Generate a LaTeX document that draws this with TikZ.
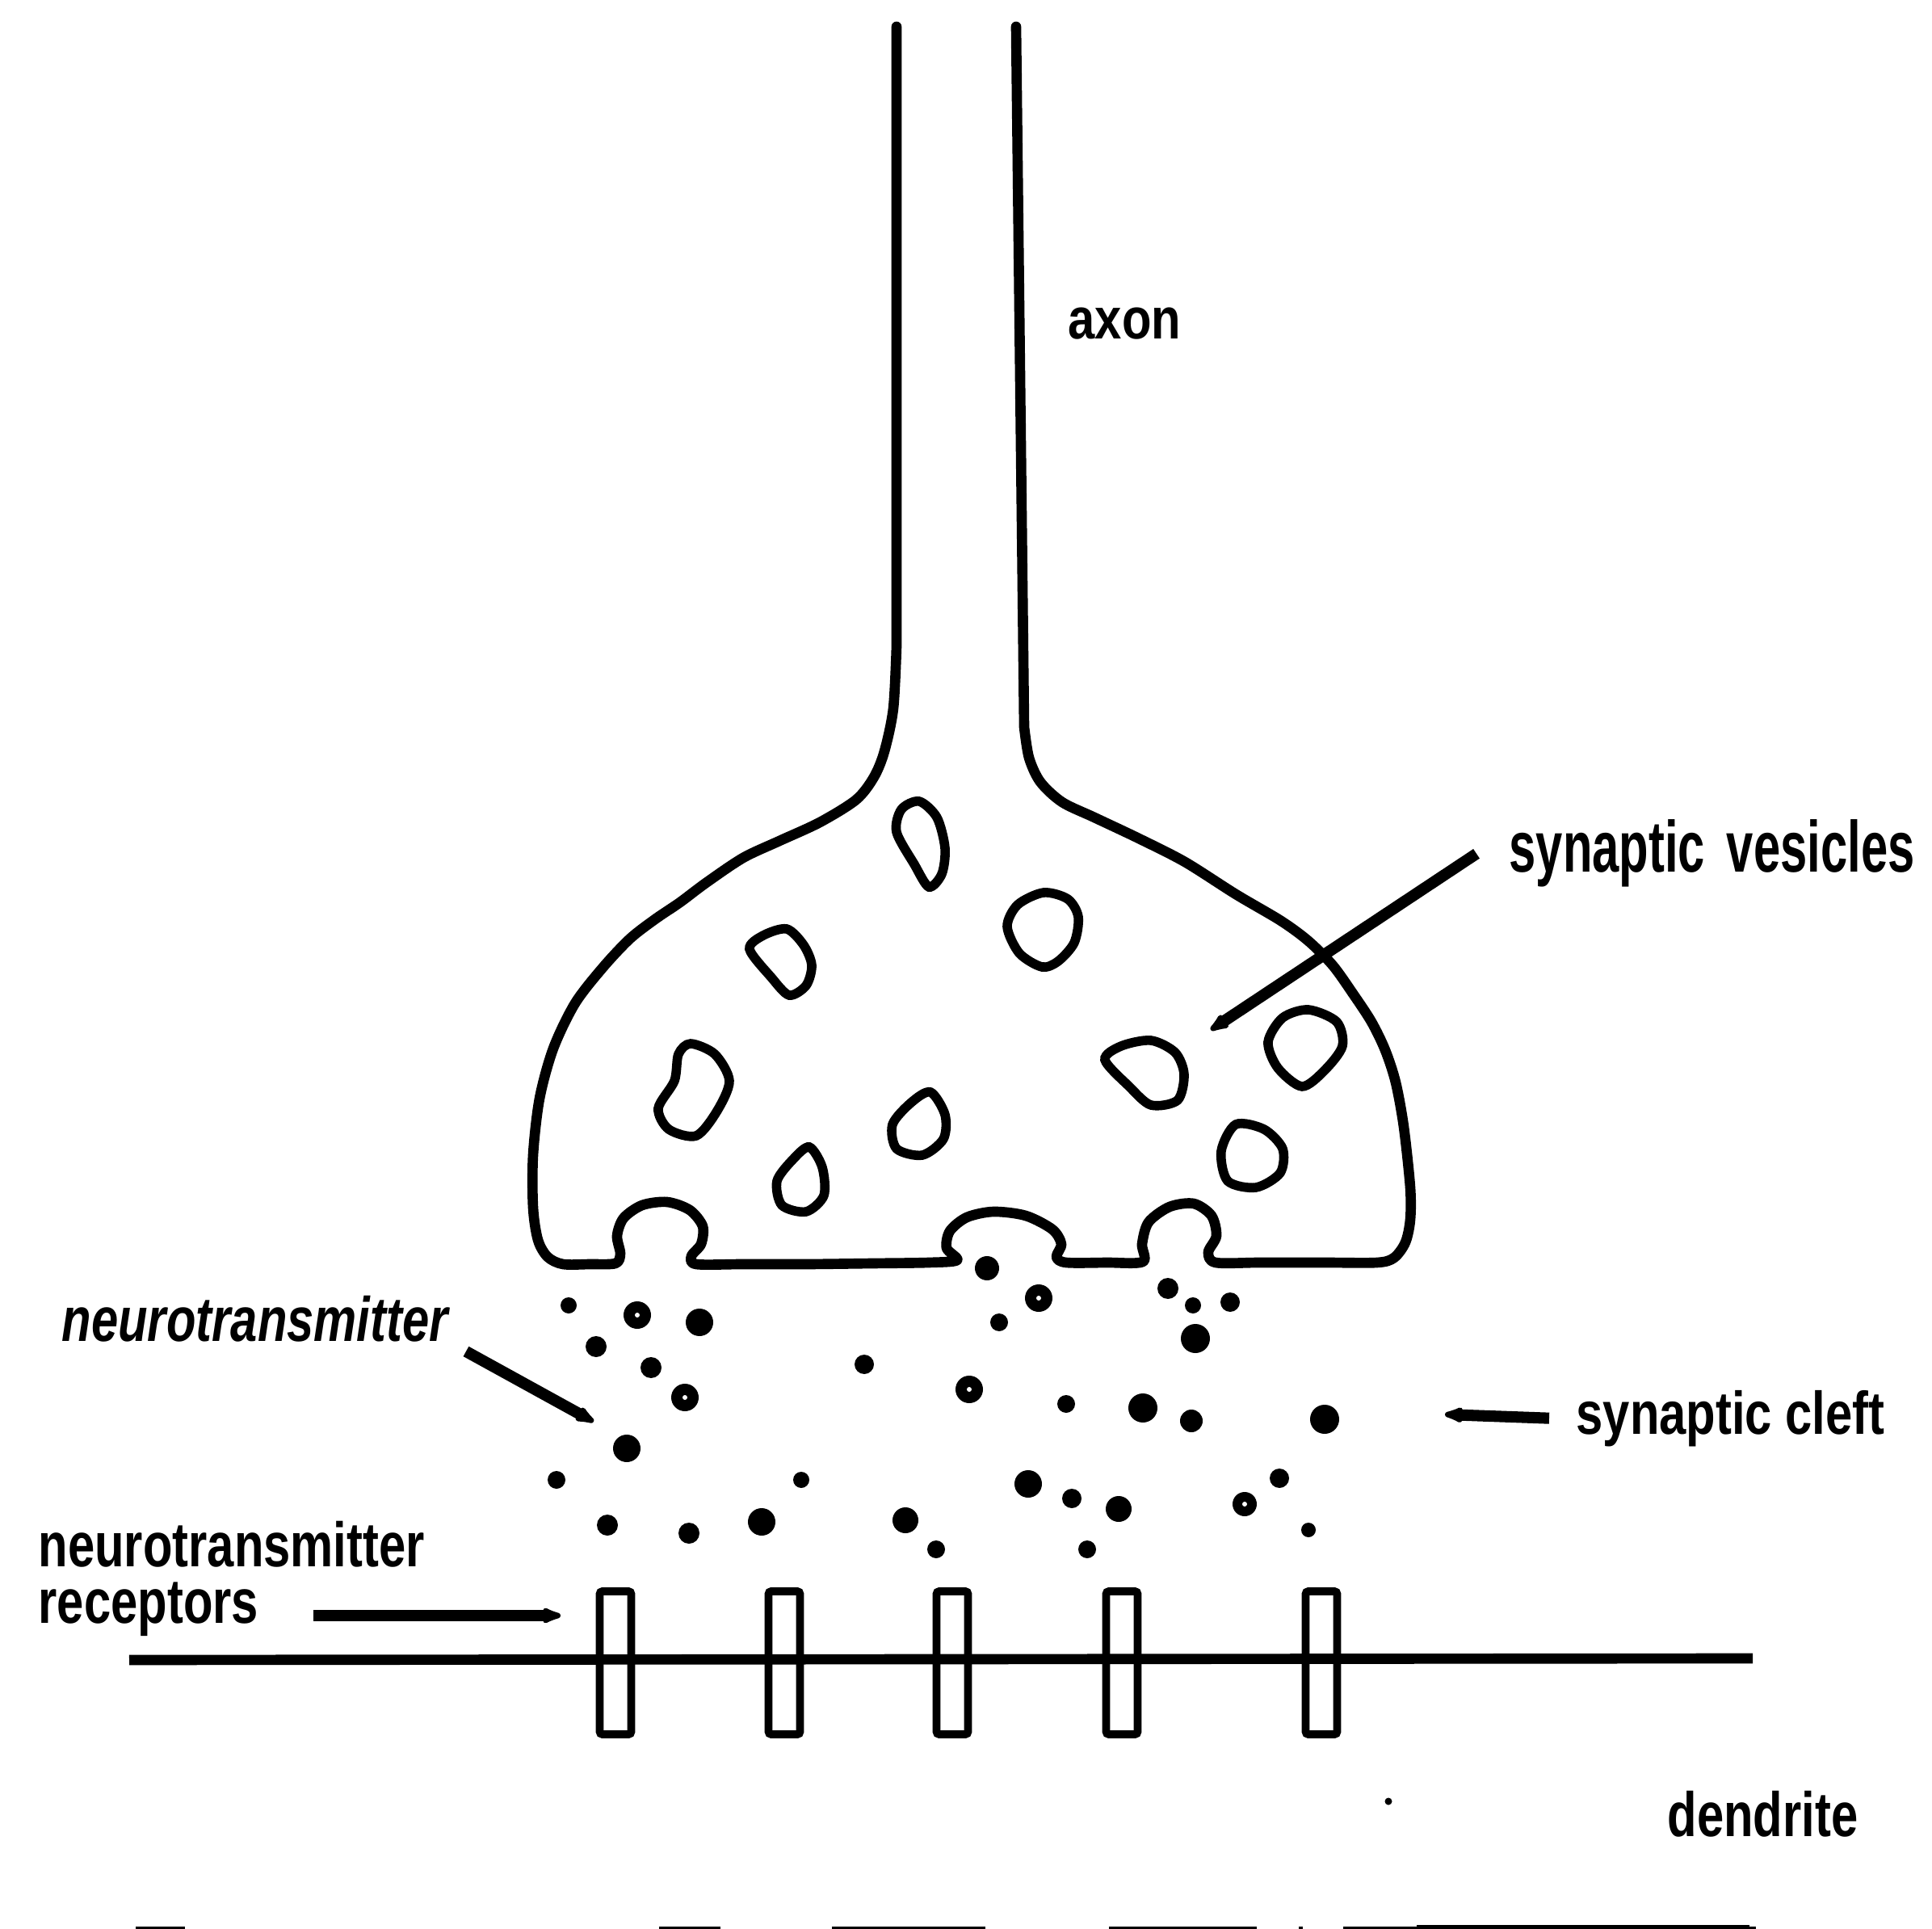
\documentclass[tikz,border=0pt]{standalone}
\usepackage{fontspec}
\setmainfont{Liberation Sans}
\usetikzlibrary{arrows.meta}

\tikzset{
  lbl/.style={font=\fontsize{17}{15.4}\selectfont\bfseries, inner sep=0pt, anchor=base west, yscale=1.3},
  memb/.style={line width=3.6pt, line join=round, line cap=round},
  ves/.style={line width=3.3pt},
  rcpt/.style={draw, line width=2.8pt, minimum width=3.9mm, minimum height=17.7mm, rounded corners=1pt, inner sep=0pt},
  ptr/.style={->, line width=4pt},
}

\begin{document}
\begin{tikzpicture}[yscale=-1, >={Latex[round,length=3.4mm,width=2.3mm]}]
\path[use as bounding box, fill=white] (0,0) rectangle (23.92,23.88);

% axon and terminal bulb
\draw[memb] (11.10,0.33) -- plot[smooth] coordinates {(11.10,8.00) (11.06,8.77) (10.95,9.30) (10.82,9.62) (10.60,9.90) (10.15,10.18) (9.65,10.41) (9.20,10.62) (8.74,10.93) (8.42,11.17) (8.11,11.38) (7.80,11.62) (7.47,11.97) (7.12,12.42) (6.85,12.98) (6.68,13.60) (6.60,14.30) (6.60,14.95) (6.66,15.35) (6.78,15.56) (6.97,15.65) (7.30,15.65) (7.62,15.64)
  (7.68,15.52) (7.64,15.30) (7.72,15.08) (7.95,14.92) (8.26,14.88) (8.54,14.98) (8.70,15.18) (8.68,15.40) (8.56,15.55) (8.62,15.65)
  (9.20,15.65) (10.00,15.65) (10.80,15.64) (11.50,15.63) (11.85,15.60)
  (11.72,15.45) (11.76,15.24) (11.97,15.07) (12.30,15.00) (12.70,15.05) (13.03,15.22) (13.14,15.40) (13.08,15.56) (13.20,15.63)
  (13.70,15.63) (14.15,15.62)
  (14.14,15.40) (14.22,15.13) (14.48,14.94) (14.78,14.90) (15.00,15.05) (15.06,15.30) (14.96,15.50) (15.05,15.63)
  (15.60,15.63) (16.40,15.63) (17.05,15.63) (17.26,15.57) (17.40,15.38) (17.46,15.10) (17.46,14.70)
  (17.38,13.95) (17.28,13.40) (17.15,13.00) (16.98,12.65) (16.75,12.30) (16.50,11.95) (16.20,11.65) (15.86,11.40) (15.30,11.07) (14.67,10.67) (14.10,10.38) (13.55,10.12) (13.15,9.93) (12.88,9.68) (12.74,9.38) (12.68,9.00)} -- (12.58,0.33);

% vesicles
\draw[ves] plot[smooth cycle] coordinates {(11.38,9.92) (11.60,10.12) (11.70,10.50) (11.66,10.82) (11.50,10.98) (11.32,10.70) (11.10,10.30) (11.16,10.02)};
\draw[ves] plot[smooth cycle] coordinates {(9.74,11.50) (9.95,11.70) (10.05,11.95) (9.98,12.20) (9.77,12.32) (9.55,12.10) (9.28,11.75) (9.45,11.58)};
\draw[ves] plot[smooth cycle] coordinates {(12.92,11.05) (13.22,11.13) (13.35,11.35) (13.30,11.67) (13.10,11.90) (12.90,11.97) (12.62,11.80) (12.47,11.47) (12.60,11.20)};
\draw[ves] plot[smooth cycle] coordinates {(8.55,12.92) (8.85,13.05) (9.03,13.38) (8.88,13.75) (8.62,14.06) (8.28,13.98) (8.15,13.72) (8.35,13.38) (8.40,13.05)};
\draw[ves] plot[smooth cycle] coordinates {(11.52,13.52) (11.70,13.80) (11.68,14.10) (11.42,14.30) (11.10,14.22) (11.05,13.92) (11.28,13.65)};
\draw[ves] plot[smooth cycle] coordinates {(14.25,12.88) (14.55,13.03) (14.66,13.30) (14.58,13.62) (14.25,13.68) (13.98,13.45) (13.68,13.12) (13.88,12.95)};
\draw[ves] plot[smooth cycle] coordinates {(16.20,12.50) (16.55,12.65) (16.62,12.95) (16.40,13.25) (16.12,13.45) (15.82,13.22) (15.70,12.90) (15.88,12.60)};
\draw[ves] plot[smooth cycle] coordinates {(15.30,13.92) (15.65,13.98) (15.88,14.22) (15.85,14.52) (15.55,14.70) (15.20,14.62) (15.12,14.25)};
\draw[ves] plot[smooth cycle] coordinates {(10.02,14.20) (10.18,14.45) (10.20,14.80) (9.98,15.00) (9.68,14.92) (9.62,14.62) (9.82,14.35)};

% neurotransmitter in the cleft
\foreach \x/\y/\r in {12.22/15.70/.15, 14.46/15.95/.13, 14.77/16.16/.10, 15.23/16.12/.12, 12.37/16.37/.11, 14.80/16.57/.18,
  7.04/16.16/.10, 8.66/16.37/.17, 7.38/16.67/.13, 8.06/16.93/.13, 10.70/16.89/.12, 13.20/17.38/.11, 14.15/17.43/.18,
  14.75/17.59/.14, 16.40/17.57/.18, 7.76/17.93/.17, 6.89/18.32/.11, 9.92/18.32/.10, 7.52/18.88/.13, 8.53/18.98/.13,
  9.43/18.84/.17, 11.21/18.82/.16, 11.59/19.18/.11, 12.73/18.37/.17, 13.27/18.55/.12, 13.85/18.68/.16, 13.46/19.18/.11,
  15.84/18.30/.12, 16.20/18.94/.09, 17.19/22.30/.045}
  \fill (\x,\y) circle (\r);
\foreach \x/\y/\r in {12.86/16.07/.17, 7.89/16.28/.17, 8.48/17.30/.17, 12.00/17.20/.17, 15.41/18.62/.15}
{
  \fill (\x,\y) circle (\r);
  \fill[white] (\x,\y) circle (.03);
}

% dendrite membrane and receptors
\draw[line width=3.6pt] (1.60,20.55) -- (21.70,20.53);
\foreach \x [count=\i] in {7.62,9.71,11.79,13.89,16.36}
  \node[rcpt] (r\i) at (\x,20.585) {};

% labels
\node[lbl, yscale=1.2/1.3] (A) at (13.22,4.20) {axon};
\node[lbl, yscale=1.5/1.3] (V) at (18.68,10.80) {synaptic\hspace{.45em}vesicles};
\node[lbl, yscale=1.25/1.3] (C) at (19.51,17.75) {synaptic cleft};
\node[lbl, font=\fontsize{17}{15.4}\selectfont\bfseries\itshape] (N) at (0.76,16.60) {neurotransmitter};
\node[lbl, anchor=north west, align=left] (R) at (0.47,18.82) {neurotransmitter\\receptors};
\node[lbl] (D) at (20.64,22.73) {dendrite};

\coordinate (vt) at (14.99,12.75);
\coordinate (ns) at (5.77,16.73);
\coordinate (nt) at (7.35,17.60);
\coordinate (ct) at (17.89,17.51);
\coordinate (rs) at (3.88,20.00);
\coordinate (rt) at (6.94,20.00);

\draw[ptr] ([xshift=-4mm]V.west) -- (vt);
\draw[ptr] (ns) -- (nt);
\draw[ptr] ([xshift=-3.3mm]C.west) -- (ct);
\draw[ptr] (rs) -- (rt);

% cut-off line at the lower edge
\foreach \a/\b in {1.68/2.29, 8.16/8.92, 10.30/12.20, 13.73/15.56, 16.08/16.13, 16.63/21.74}
  \fill (\a,23.85) rectangle (\b,23.88);
\fill (17.54,23.83) rectangle (21.66,23.88);
\end{tikzpicture}
\end{document}
